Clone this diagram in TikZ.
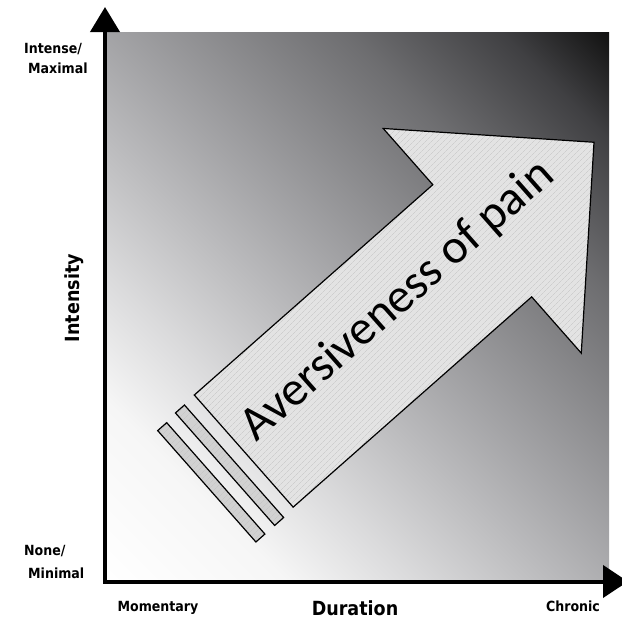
\documentclass[tikz,border=0pt]{standalone}
\usepackage{fontspec}
\setmainfont{Carlito}
\newfontfamily\labfont{DejaVu Sans Condensed}
\usetikzlibrary{arrows.meta,patterns.meta}
\definecolor{bgA}{rgb}{1,1,1}
\definecolor{bgB}{rgb}{0.965,0.965,0.965}
\definecolor{bgC}{rgb}{0.86,0.86,0.865}
\definecolor{bgD}{rgb}{0.66,0.66,0.67}
\definecolor{bgE}{rgb}{0.43,0.43,0.44}
\definecolor{bgF}{rgb}{0.25,0.25,0.26}
\definecolor{bgG}{rgb}{0.07,0.07,0.07}
\pgfdeclarehorizontalshading{bgshade}{100bp}{color(0bp)=(bgA); color(14.6bp)=(bgA); color(26.5bp)=(bgB); color(35bp)=(bgC); color(50bp)=(bgD); color(67.7bp)=(bgE); color(78.3bp)=(bgF); color(85.4bp)=(bgG); color(100bp)=(bgG)}
\begin{document}
\begin{tikzpicture}[x=1pt,y=-1pt,
  hatch/.style={pattern={Lines[angle=45,distance=4pt,line width=0.35pt]}, pattern color=black!23},
  outline/.style={draw=black, line width=1.2pt, line join=miter},
  bodyshape/.style={fill=black!11, postaction={hatch}, postaction={outline}},
  stripebox/.style={fill=black!18, postaction={hatch}, postaction={outline}},
  axisline/.style={line width=4pt, black},
  smalllab/.style={font=\labfont\bfseries\fontsize{14}{16}\selectfont, inner sep=0pt},
  biglab/.style={font=\labfont\bfseries\fontsize{19.5}{22}\selectfont, inner sep=0pt}]
\useasboundingbox (0,0) rectangle (622,619);
% background gradient square
\shade[shading=bgshade, shading angle=45] (107,32) rectangle (609,580);
% arrow geometry (local frame: along arrow, across arrow)
\begin{scope}[shift={(194.3,395)}, rotate=41.4]
  \coordinate (A) at (0,0);
  \coordinate (N1) at (318,0);
  \coordinate (W1) at (318,-75);
  \coordinate (T) at (467,74.75);
  \coordinate (W2) at (318,224.5);
  \coordinate (N2) at (318,149.5);
  \coordinate (B) at (0,149.5);
  \coordinate (S1a) at (-14,1);
  \coordinate (S1b) at (-26,1);
  \coordinate (S1c) at (-26,151);
  \coordinate (S1d) at (-14,151);
  \coordinate (S2a) at (-39,2.5);
  \coordinate (S2b) at (-51,2.5);
  \coordinate (S2c) at (-51,151);
  \coordinate (S2d) at (-39,151);
  \coordinate (L) at (215,77);
\end{scope}
\path[stripebox] (S2a) -- (S2b) -- (S2c) -- (S2d) -- cycle;
\path[stripebox] (S1a) -- (S1b) -- (S1c) -- (S1d) -- cycle;
\path[bodyshape] (A) -- (N1) -- (W1) -- (T) -- (W2) -- (N2) -- (B) -- cycle;
\node[rotate=41.4, anchor=base, inner sep=0pt, font=\fontsize{48.5}{52}\selectfont] (txt) at (L) {Aversiveness of pain};
% axes
\coordinate (O) at (105,583);
\coordinate (Ytip) at (105,7);
\coordinate (Xs) at (103,581.5);
\coordinate (Xtip) at (628,581.5);
\draw[axisline, -{Triangle[length=25pt,width=29pt]}] (O) -- (Ytip);
\draw[axisline, -{Triangle[length=25pt,width=32pt]}] (Xs) -- (Xtip);
% labels
\node[smalllab, anchor=base west] (l1) at (24,53) {Intense/};
\node[smalllab, anchor=base west] (l2) at (28,73) {Maximal};
\node[smalllab, anchor=base west] (l3) at (24,555) {None/};
\node[smalllab, anchor=base west] (l4) at (28,578) {Minimal};
\node[smalllab, anchor=base] (l5) at (158,611) {Momentary};
\node[smalllab, anchor=base] (l6) at (573,611) {Chronic};
\node[biglab, anchor=base] (l7) at (355,615) {Duration};
\node[biglab, anchor=base, rotate=90] (l8) at (79,298) {Intensity};
\end{tikzpicture}
\end{document}
